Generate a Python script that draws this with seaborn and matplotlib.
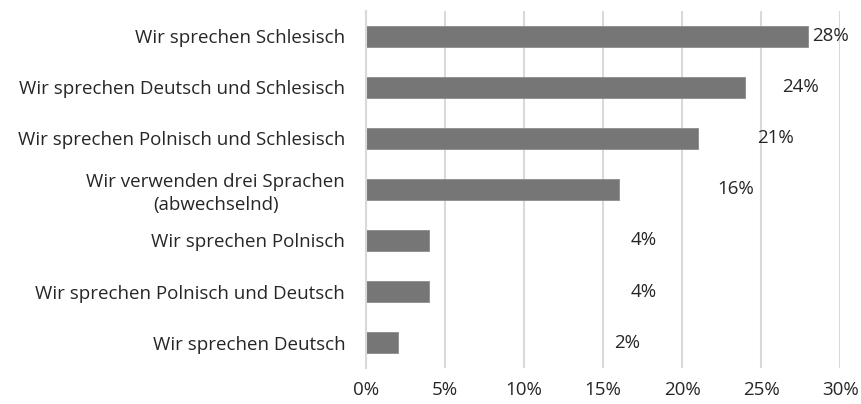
import pandas as pd
import matplotlib.pyplot as plt
import seaborn as sns

# Data
categories = [
    "Wir sprechen Schlesisch",
    "Wir sprechen Deutsch und Schlesisch",
    "Wir sprechen Polnisch und Schlesisch",
    "Wir verwenden drei Sprachen\n(abwechselnd)",
    "Wir sprechen Polnisch",
    "Wir sprechen Polnisch und Deutsch",
    "Wir sprechen Deutsch",
]
values = [28, 24, 21, 16, 4, 4, 2]
value_labels = ["28%", "24%", "21%", "16%", "4%", "4%", "2%"]
# where the (oddly placed) labels sit, in % of x axis
label_x = [29.4, 27.5, 25.9, 23.4, 17.6, 17.6, 16.5]

df = pd.DataFrame({"cat": categories, "val": values})

sns.set_style("white")
plt.rcParams["font.family"] = ["Open Sans", "DejaVu Sans"]

fig = plt.figure(figsize=(8.62, 4.04), dpi=100)
ax = fig.add_axes([0.4246, 0.089, 0.55, 0.884])

sns.barplot(data=df, x="val", y="cat", orient="h", color="#767676",
            width=0.4, saturation=1, edgecolor="#8c8c8c", linewidth=0.6, ax=ax)

ax.set_xlim(0, 30)
ax.set_xticks(range(0, 31, 5))
ax.set_xticklabels([f"{t}%" for t in range(0, 31, 5)])
ax.grid(axis="x", color="#d9d9d9", linewidth=1.5)
ax.set_axisbelow(True)
for s in ["top", "right", "bottom"]:
    ax.spines[s].set_visible(False)
ax.spines["left"].set_color("#d9d9d9")
ax.spines["left"].set_linewidth(1.5)
ax.tick_params(axis="both", length=0, labelsize=13.5, colors="#262626")
ax.tick_params(axis="x", pad=9)
ax.tick_params(axis="y", pad=15)
for lbl in ax.get_yticklabels():
    lbl.set_multialignment("center")
    lbl.set_linespacing(1.35)
ax.set_xlabel("")
ax.set_ylabel("")

for i, (lx, txt) in enumerate(zip(label_x, value_labels)):
    ax.text(lx, i, txt, ha="center", va="center", fontsize=13.5, color="#262626")

fig.savefig("out.png", dpi=100)
